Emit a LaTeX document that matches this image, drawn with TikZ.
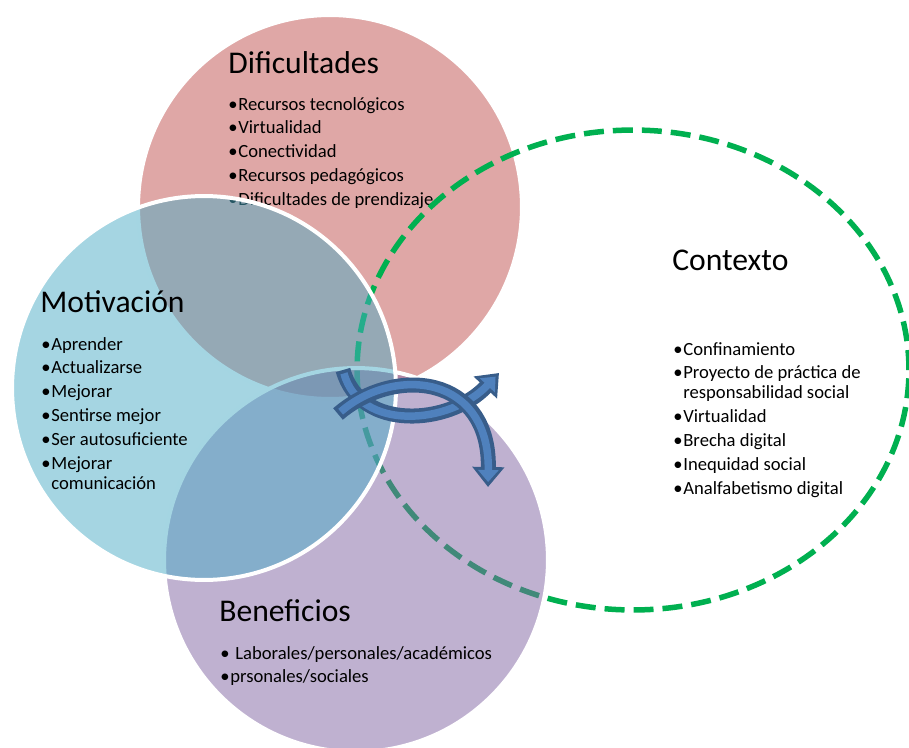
\documentclass[tikz,border=0pt]{standalone}
\usepackage{fontspec}
\setmainfont{Carlito}
\usetikzlibrary{arrows.meta}

\newcommand{\bul}{\makebox[0.2cm][l]{\textbullet}}

\begin{document}
\begin{tikzpicture}[
      x=0.02cm, y=-0.02cm,
      hdr/.style={anchor=base west, inner sep=0pt, font=\fontsize{18}{21}\selectfont},
      lst/.style={anchor=base west, inner sep=0pt, font=\fontsize{10.6}{11.34}\selectfont},
      venn/.style={draw=white, line width=0.08cm, fill opacity=0.5},
      ctxline/.style={draw=ctxgreen, line width=0.11cm, dash pattern=on 0.4cm off 0.18cm},
      arrowout/.style={line width=0.3cm, draw=arrowedge, -{Triangle[length=0.4cm, width=0.62cm]}},
      arrowin/.style={line width=0.15cm, draw=arrowfill, shorten >=0.1cm, shorten <=0.07cm,
        -{Triangle[length=0.24cm, width=0.4cm]}},
    ]
    \definecolor{vennred}{HTML}{C0504D}
    \definecolor{vennblue}{HTML}{4BACC6}
    \definecolor{vennpurple}{HTML}{8064A2}
    \definecolor{ctxgreen}{HTML}{00B050}
    \definecolor{arrowfill}{HTML}{4F81BD}
    \definecolor{arrowedge}{HTML}{385D8A}

    \useasboundingbox (0,0) rectangle (909,747);

    % Dificultades
    \draw[venn, fill=vennred] (330,207) circle[radius=3.84cm];
    \node[hdr] (difTitle) at (228,73) {Dificultades};
    \node[lst] (difList) at (228,110) {\begin{tabular}[t]{@{}l@{}}
      \bul Recursos tecnológicos\\[2.3pt]
      \bul Virtualidad\\[2.3pt]
      \bul Conectividad\\[2.3pt]
      \bul Recursos pedagógicos\\[2.3pt]
      \bul Dificultades de prendizaje\end{tabular}};

    % Contexto
    \draw[ctxline] (633,370) ellipse[x radius=5.52cm, y radius=4.8cm];

    % Beneficios and Motivacion
    \draw[venn, fill=vennpurple] (356,560) circle[radius=3.84cm];
    \draw[venn, fill=vennblue] (204,388) circle[radius=3.84cm];

    % arrows in the middle
    \coordinate (upTail) at (343,370);
    \coordinate (upHead) at (499,373);
    \coordinate (dnTail) at (338,414);
    \coordinate (dnHead) at (488,487);
    \draw[arrowout] (upTail) .. controls (360,432) and (450,425) .. (upHead);
    \draw[arrowin]  (upTail) .. controls (360,432) and (450,425) .. (upHead);
    \draw[arrowout] (dnTail) .. controls (395,365) and (490,375) .. (dnHead);
    \draw[arrowin]  (dnTail) .. controls (395,365) and (490,375) .. (dnHead);

    \node[hdr] (motTitle) at (40,312) {Motivación};
    \node[lst] (motList) at (41,350) {\begin{tabular}[t]{@{}l@{}}
      \bul Aprender\\[2.3pt]
      \bul Actualizarse\\[2.3pt]
      \bul Mejorar\\[2.3pt]
      \bul Sentirse mejor\\[2.3pt]
      \bul Ser autosuficiente\\[2.3pt]
      \bul Mejorar\\
      \hspace*{0.2cm}comunicación\end{tabular}};

    \node[hdr] (ctxTitle) at (672,270) {Contexto};
    \node[lst] (ctxList) at (673,355) {\begin{tabular}[t]{@{}l@{}}
      \bul Confinamiento\\[2.3pt]
      \bul Proyecto de práctica de\\
      \hspace*{0.2cm}responsabilidad social\\[2.3pt]
      \bul Virtualidad\\[2.3pt]
      \bul Brecha digital\\[2.3pt]
      \bul Inequidad social\\[2.3pt]
      \bul Analfabetismo digital\end{tabular}};

    \node[hdr] (benTitle) at (219,621) {Beneficios};
    \node[lst] (benList) at (220,659) {\begin{tabular}[t]{@{}l@{}}
      \makebox[0.3cm][l]{\textbullet}Laborales/personales/académicos\\[2.3pt]
      \makebox[0.2cm][l]{\textbullet}prsonales/sociales\end{tabular}};
  \end{tikzpicture}
\end{document}
